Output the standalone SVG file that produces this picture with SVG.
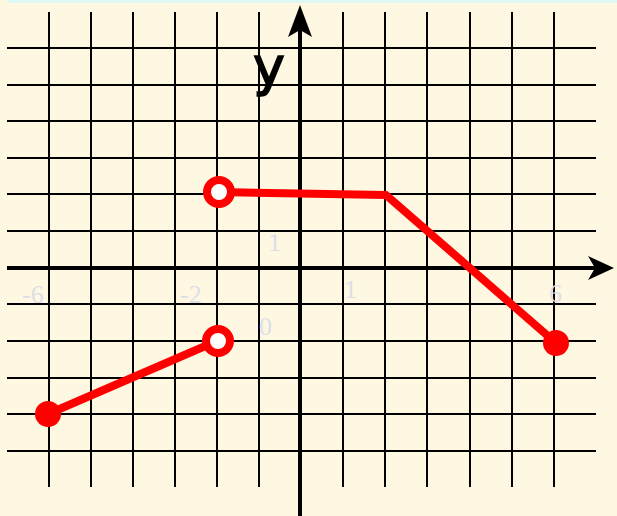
<svg xmlns="http://www.w3.org/2000/svg" width="617" height="516" viewBox="0 0 617 516">
<style>
.grid{stroke:#000;stroke-width:2;fill:none}
.axis{stroke:#000;stroke-width:4;fill:none}
.head{fill:#000}
.graph{stroke:#f00;stroke-width:8;fill:none;stroke-linecap:round;stroke-linejoin:round}
.open{stroke:#f00;stroke-width:8;fill:#fff}
.dot{fill:#f00}
.lbl{font-family:"Liberation Serif",serif;font-size:26px;fill:#dcdfe8}
</style>
<rect width="617" height="516" fill="#fef7e2"/>
<rect x="8" y="0" width="609" height="3" fill="#def8f4"/>
<g id="grid" class="grid">
<path d="M49,12V487M91,12V487M133,12V487M175,12V487M217,12V487M259,12V487M343,12V487M385,12V487M427,12V487M470,12V487M512,12V487M554,12V487"/>
<path d="M7,48H596M7,85H596M7,121H596M7,158H596M7,194H596M7,231H596M7,304H596M7,341H596M7,378H596M7,414H596M7,451H596"/>
</g>
<g id="axes">
<line class="axis" x1="7" y1="268" x2="600" y2="268"/>
<line class="axis" x1="300" y1="516" x2="300" y2="20"/>
<path class="head" d="M614,268 L588,256 L595,268 L588,280 Z"/>
<path class="head" d="M300,5 L288,37 L300,30 L312,37 Z"/>
</g>
<g id="labels">
<text class="lbl" x="22" y="303">-6</text>
<text class="lbl" x="180" y="303">-2</text>
<text class="lbl" x="259" y="335">0</text>
<text class="lbl" x="344" y="298">1</text>
<text class="lbl" x="268" y="251">1</text>
<text class="lbl" x="549" y="302">6</text>
<text x="253" y="85" font-family="DejaVu Sans,sans-serif" font-size="54" stroke="#000" stroke-width="1.5" fill="#000">y</text>
</g>
<g id="connectors">
<polyline class="graph" points="48,414 217,341"/>
<polyline class="graph" points="219,192 386,195 556,343"/>
</g>
<g id="p1"><circle class="dot" cx="48" cy="414" r="13"/></g>
<g id="p2"><circle class="open" cx="218" cy="341" r="12"/></g>
<g id="p3"><circle class="open" cx="219" cy="192" r="12"/></g>
<g id="p4"><circle class="dot" cx="556" cy="343" r="13"/></g>
</svg>
